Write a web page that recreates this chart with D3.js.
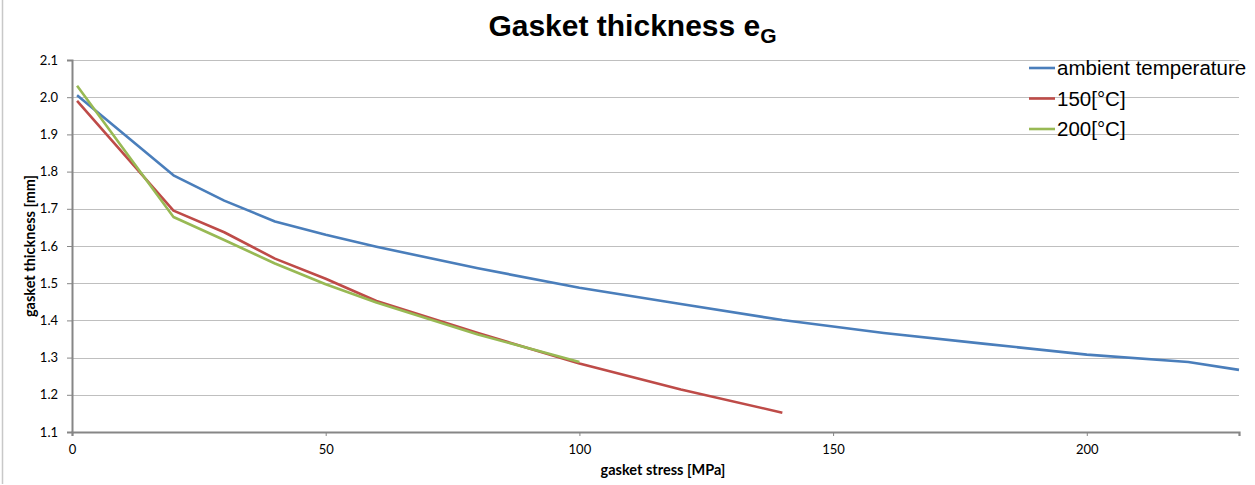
<!DOCTYPE html>
<html>
<head>
<meta charset="utf-8">
<script src="https://cdn.jsdelivr.net/npm/d3@7"></script>
<style>
  html, body { margin: 0; padding: 0; background: #ffffff; }
  svg { display: block; }
</style>
</head>
<body>
<svg id="chart" width="1255" height="485"></svg>
<script>
// ---- data ----
const seriesNames = ["ambient temperature", "150[°C]", "200[°C]"];
const seriesColors = ["#4a7ebb", "#be4b48", "#98b954"];

const ambientStress = [1, 20, 30, 40, 50, 60, 80, 100, 120, 140, 160, 180, 200, 220, 230];
const ambientThick  = [2.005, 1.790, 1.722, 1.666, 1.630, 1.598, 1.540, 1.488, 1.444, 1.401, 1.366, 1.337, 1.308, 1.288, 1.267];

const t150Stress = [1, 20, 30, 40, 50, 60, 80, 100, 120, 140];
const t150Thick  = [1.990, 1.695, 1.637, 1.566, 1.512, 1.452, 1.366, 1.284, 1.214, 1.152];

const t200Stress = [1, 20, 30, 40, 50, 60, 80, 100];
const t200Thick  = [2.031, 1.678, 1.616, 1.553, 1.497, 1.448, 1.362, 1.288];

const xTicks = [0, 50, 100, 150, 200];
const yTicks = [1.1, 1.2, 1.3, 1.4, 1.5, 1.6, 1.7, 1.8, 1.9, 2.0, 2.1];

const titleMain = "Gasket thickness e";
const titleSub = "G";
const xTitle = "gasket stress [MPa]";
const yTitle = "gasket thickness [mm]";

// ---- layout ----
const svg = d3.select("#chart");
const plot = { left: 72, right: 1239, top: 60, bottom: 432 };

const x = d3.scaleLinear().domain([0, 230]).range([plot.left, plot.right]);
const y = d3.scaleLinear().domain([1.1, 2.1]).range([plot.bottom, plot.top]);

// outer chart border (left edge visible)
svg.append("line")
  .attr("x1", 2.5).attr("x2", 2.5).attr("y1", 0).attr("y2", 484)
  .attr("stroke", "#c8c8c8").attr("stroke-width", 1.5);

// gridlines
svg.append("g")
  .selectAll("line")
  .data(yTicks.filter(d => d > 1.1))
  .join("line")
  .attr("x1", plot.left).attr("x2", plot.right)
  .attr("y1", d => Math.round(y(d)) + 0.5).attr("y2", d => Math.round(y(d)) + 0.5)
  .attr("stroke", "#bfbfbf").attr("stroke-width", 1.2);

// y axis
const yAxis = d3.axisLeft(y).tickValues(yTicks).tickFormat(d3.format(".1f")).tickSize(5).tickPadding(9);
const gy = svg.append("g").attr("transform", `translate(${plot.left},0)`).call(yAxis);
gy.select(".domain").attr("stroke", "#868686").attr("stroke-width", 2);
gy.selectAll(".tick line").attr("stroke", "#868686").attr("stroke-width", 1);
gy.selectAll(".tick text")
  .attr("font-family", "Lato, 'Open Sans', sans-serif")
  .attr("font-size", 13).attr("fill", "#000");

// x axis
const xAxis = d3.axisBottom(x).tickValues(xTicks).tickFormat(d3.format("d")).tickSize(4).tickPadding(9);
const gx = svg.append("g").attr("transform", `translate(0,${plot.bottom})`).call(xAxis);
gx.select(".domain").attr("stroke", "#868686").attr("stroke-width", 2.2);
gx.selectAll(".tick line").attr("stroke", "#868686").attr("stroke-width", 1);
gx.selectAll(".tick text")
  .attr("font-family", "Lato, 'Open Sans', sans-serif")
  .attr("font-size", 13).attr("fill", "#000");

// series
const series = [
  { name: seriesNames[0], color: seriesColors[0], xs: ambientStress, ys: ambientThick },
  { name: seriesNames[1], color: seriesColors[1], xs: t150Stress, ys: t150Thick },
  { name: seriesNames[2], color: seriesColors[2], xs: t200Stress, ys: t200Thick }
];
const line = d3.line().x(d => x(d[0])).y(d => y(d[1]));
svg.append("g")
  .selectAll("path")
  .data(series)
  .join("path")
  .attr("d", s => line(s.xs.map((v, i) => [v, s.ys[i]])))
  .attr("fill", "none")
  .attr("stroke", s => s.color)
  .attr("stroke-width", 2.6)
  .attr("stroke-linejoin", "round")
  .attr("stroke-linecap", "butt");

// title
const t = svg.append("text")
  .attr("x", 632.5).attr("y", 36)
  .attr("text-anchor", "middle")
  .attr("font-family", "'Liberation Sans', Arial, sans-serif")
  .attr("font-weight", "bold")
  .attr("font-size", 30)
  .attr("fill", "#000");
t.append("tspan").text(titleMain);
t.append("tspan").attr("dy", 7).attr("font-size", 21).text(titleSub);

// axis titles
svg.append("text")
  .attr("x", 663).attr("y", 475)
  .attr("text-anchor", "middle")
  .attr("font-family", "Lato, 'Open Sans', sans-serif")
  .attr("font-weight", "bold")
  .attr("font-size", 14.5)
  .attr("fill", "#000")
  .text(xTitle);

svg.append("text")
  .attr("transform", `translate(35,246) rotate(-90)`)
  .attr("text-anchor", "middle")
  .attr("font-family", "Lato, 'Open Sans', sans-serif")
  .attr("font-weight", "bold")
  .attr("font-size", 14.5)
  .attr("fill", "#000")
  .text(yTitle);

// legend (transparent, drawn over gridlines)
const legendY = [68, 98.5, 129];
const lg = svg.append("g");
series.forEach((s, i) => {
  lg.append("line")
    .attr("x1", 1029).attr("x2", 1055)
    .attr("y1", legendY[i]).attr("y2", legendY[i])
    .attr("stroke", s.color).attr("stroke-width", 2.6);
  lg.append("text")
    .attr("x", 1057).attr("y", legendY[i] + 7)
    .attr("font-family", "'Liberation Sans', Arial, sans-serif")
    .attr("font-size", 20.5)
    .attr("fill", "#000")
    .text(s.name);
});
</script>
</body>
</html>
